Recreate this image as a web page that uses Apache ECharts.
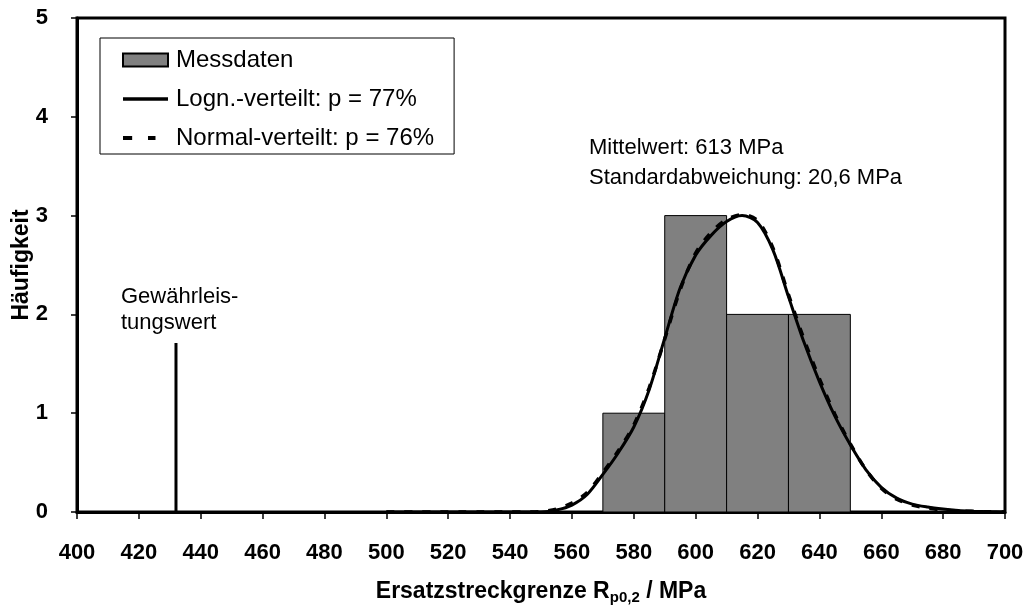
<!DOCTYPE html>
<html>
<head>
<meta charset="utf-8">
<script src="https://cdn.jsdelivr.net/npm/echarts@6/dist/echarts.min.js"></script>
<style>
html,body{margin:0;padding:0;background:#fff;}
#chart{width:1030px;height:612px;}
</style>
</head>
<body>
<div id="chart"></div>
<script>
// Histogram bins (MPa) and counts
const binStart = [570, 590, 610, 630];
const binEnd   = [590, 610, 630, 650];
const counts   = [1, 3, 2, 2];

// Fitted curves (every 5 MPa)
const fitX  = [500,505,510,515,520,525,530,535,540,545,550,555,560,565,570,575,580,585,590,595,600,605,610,615,620,625,630,635,640,645,650,655,660,665,670,675,680,685,690,695,700];
const logn  = [0,0,0,0,0,0,0,0,0,0,0,0.02,0.07,0.18,0.38,0.6,0.86,1.24,1.76,2.27,2.6,2.8,2.94,3.0,2.93,2.65,2.18,1.72,1.32,0.97,0.68,0.43,0.25,0.14,0.08,0.05,0.03,0.015,0.008,0.003,0];
const normv = [0,0,0,0,0,0,0,0,0,0,0.005,0.03,0.09,0.2,0.4,0.62,0.88,1.26,1.75,2.25,2.62,2.83,2.96,3.01,2.95,2.67,2.2,1.75,1.35,0.99,0.69,0.43,0.24,0.13,0.07,0.04,0.02,0.01,0.005,0.002,0];

// Guaranteed value marker
const guarX = [432, 432];
const guarY = [0, 1.71];

const xTicks = [400,420,440,460,480,500,520,540,560,580,600,620,640,660,680,700];
const yTicks = [0,1,2,3,4,5];

const names = ['Messdaten', 'Logn.-verteilt: p = 77%', 'Normal-verteilt: p = 76%'];

const FONT = '"Liberation Sans", Arial, Helvetica, sans-serif';

const chart = echarts.init(document.getElementById('chart'), null, {renderer: 'canvas'});

const option = {
  animation: false,
  backgroundColor: '#fff',
  textStyle: {fontFamily: FONT},
  grid: {left: 77, right: 25, top: 18, bottom: 100, containLabel: false, outerBoundsMode: 'none',
         show: true, borderColor: '#000', borderWidth: 3, backgroundColor: 'transparent'},
  legend: {
    orient: 'vertical',
    left: 100, top: 38,
    padding: [10, 20, 4, 22],
    itemWidth: 45, itemHeight: 13, itemGap: 15,
    borderColor: '#000', borderWidth: 1,
    backgroundColor: '#fff',
    textStyle: {fontSize: 24, color: '#000', fontFamily: FONT, padding: [0,0,0,3]},
    data: [
      {name: names[0], icon: 'rect', itemStyle: {color: '#808080', borderColor: '#000', borderWidth: 2}},
      {name: names[1], icon: 'path://M0,0h45v3.5h-45z', itemStyle: {color: '#000', borderWidth: 0}},
      {name: names[2], icon: 'path://M0,0h11v5h-11z M30,0h9v5h-9z M54,0h0.01v0.01h-0.01z', itemStyle: {color: '#000', borderWidth: 0}}
    ]
  },
  xAxis: {
    type: 'value', min: xTicks[0], max: xTicks[xTicks.length-1], interval: 20,
    name: '{t|Ersatzstreckgrenze R}{s|p0,2}{t| / MPa}',
    nameLocation: 'middle', nameGap: 66, nameMoveOverlap: false,
    nameTextStyle: {rich: {
      t: {fontSize: 23, fontWeight: 'bold', color: '#000', fontFamily: FONT},
      s: {fontSize: 15, fontWeight: 'bold', color: '#000', fontFamily: FONT, padding: [12,0,0,0]}
    }},
    axisLine: {show: true, onZero: false, lineStyle: {color: '#000', width: 3}},
    axisTick: {show: true, length: 7, lineStyle: {color: '#000', width: 1.5}},
    axisLabel: {fontSize: 22, fontWeight: 'bold', color: '#000', margin: 30, fontFamily: FONT},
    splitLine: {show: false}
  },
  yAxis: {
    type: 'value', min: yTicks[0], max: yTicks[yTicks.length-1], interval: 1,
    name: 'Häufigkeit', nameLocation: 'middle', nameGap: 44, nameMoveOverlap: false,
    nameTextStyle: {fontSize: 23, fontWeight: 'bold', color: '#000', fontFamily: FONT},
    axisLine: {show: true, lineStyle: {color: '#000', width: 3}},
    axisTick: {show: true, length: 6, lineStyle: {color: '#000', width: 1.5}},
    axisLabel: {fontSize: 22, fontWeight: 'bold', color: '#000', margin: 29, fontFamily: FONT},
    splitLine: {show: false}
  },
  graphic: [
    {type: 'text', left: 589, top: 137, style: {text: 'Mittelwert: 613 MPa', fontSize: 22, fill: '#000', fontFamily: FONT}},
    {type: 'text', left: 589, top: 167, style: {text: 'Standardabweichung: 20,6 MPa', fontSize: 22, fill: '#000', fontFamily: FONT}},
    {type: 'text', left: 121, top: 286, style: {text: 'Gewährleis-', fontSize: 22, fill: '#000', fontFamily: FONT}},
    {type: 'text', left: 121, top: 312, style: {text: 'tungswert', fontSize: 22, fill: '#000', fontFamily: FONT}}
  ],
  series: [
    {
      name: names[0],
      type: 'custom',
      itemStyle: {color: '#808080', borderColor: '#000', borderWidth: 1},
      encode: {x: [0, 1], y: 2},
      data: binStart.map((s, i) => [s, binEnd[i], counts[i]]),
      renderItem: function (params, api) {
        const p0 = api.coord([api.value(0), 0]);
        const p1 = api.coord([api.value(1), api.value(2)]);
        return {
          type: 'rect',
          shape: {x: p0[0], y: p1[1], width: p1[0] - p0[0], height: p0[1] - p1[1]},
          style: {fill: '#808080', stroke: '#000', lineWidth: 1}
        };
      },
      z: 2
    },
    {
      name: names[2],
      type: 'line',
      data: fitX.map((x, i) => [x, normv[i]]),
      showSymbol: false, symbol: 'none',
      smooth: 0.3,
      lineStyle: {color: '#000', width: 3.5, type: [8, 10]},
      itemStyle: {color: '#000'},
      z: 3
    },
    {
      name: names[1],
      type: 'line',
      data: fitX.map((x, i) => [x, logn[i]]),
      showSymbol: false, symbol: 'none',
      smooth: 0.3,
      lineStyle: {color: '#000', width: 3},
      itemStyle: {color: '#000'},
      z: 4
    },
    {
      name: 'Gewährleistungswert',
      type: 'line',
      data: guarX.map((x, i) => [x, guarY[i]]),
      showSymbol: false, symbol: 'none',
      lineStyle: {color: '#000', width: 3},
      z: 4
    }
  ]
};
chart.setOption(option);
</script>
</body>
</html>
